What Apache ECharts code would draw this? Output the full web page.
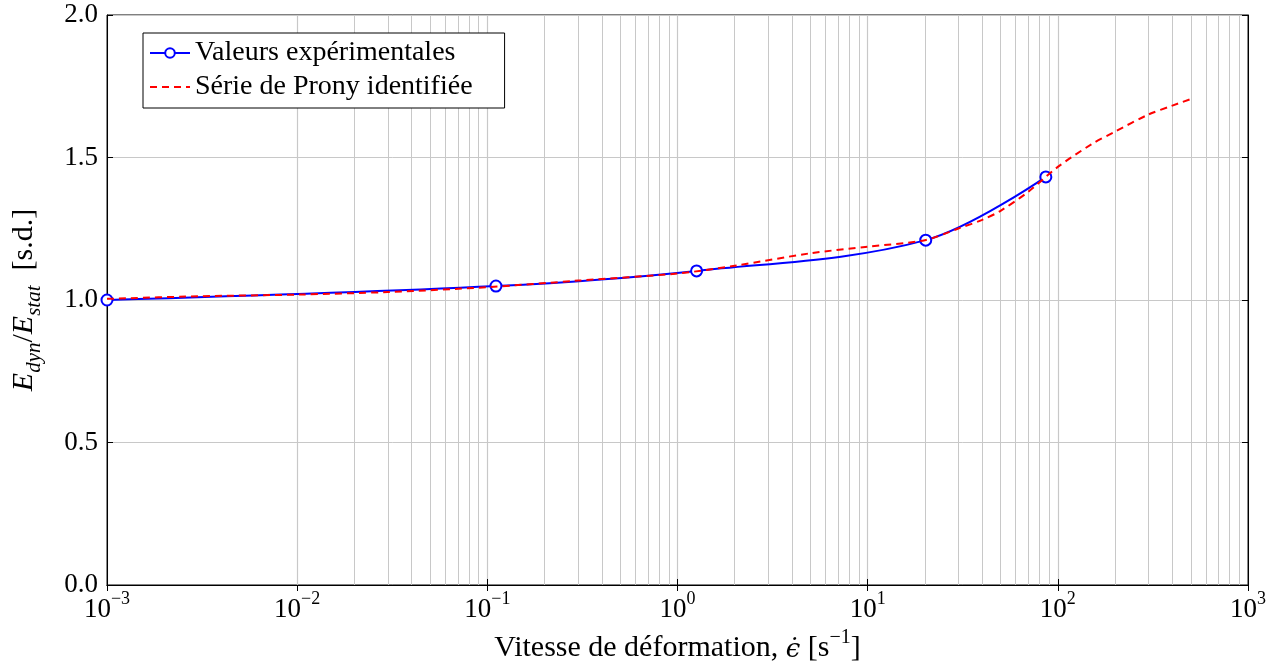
<!DOCTYPE html>
<html>
<head>
<meta charset="utf-8">
<script src="https://cdn.jsdelivr.net/npm/echarts@6/dist/echarts.min.js"></script>
<style>
  html, body { margin: 0; padding: 0; background: #fff; }
  #chart { width: 1281px; height: 666px; }
</style>
</head>
<body>
<div id="chart"></div>
<script>
// valeurs experimentales (vitesse de deformation, rapport E_dyn/E_stat)
var expRate  = [0.001, 0.111, 1.26, 20.2, 86.5];
var expRatio = [1.0, 1.049, 1.102, 1.21, 1.432];

// serie de Prony identifiee
var pronyRate  = [0.001, 0.003, 0.01, 0.03, 0.1, 0.3, 1, 2, 5, 10, 20, 30, 40, 50, 70, 100, 150, 200, 300, 400, 500];
var pronyRatio = [1.004, 1.013, 1.019, 1.028, 1.045, 1.068, 1.093, 1.12, 1.164, 1.187, 1.21, 1.251, 1.281, 1.313, 1.38, 1.467, 1.546, 1.591, 1.651, 1.682, 1.705];

// graduations
var xDecades = [-3, -2, -1, 0, 1, 2, 3];
var minorMult = [2, 3, 4, 5, 6, 7, 8, 9];

var font = 'Liberation Serif';
var fs = 27;
var gridColor = '#c8c8c8';

// grille secondaire (2..9 x 10^k)
var minorLines = [];
for (var d = 0; d < xDecades.length - 1; d++) {
  for (var m = 0; m < minorMult.length; m++) {
    minorLines.push({ xAxis: minorMult[m] * Math.pow(10, xDecades[d]) });
  }
}

function pts(xs, ys) {
  var res = [];
  for (var i = 0; i < xs.length; i++) res.push([xs[i], ys[i]]);
  return res;
}

function powLabel(v) {
  var e = Math.round(Math.log(v) / Math.LN10);
  var s = e < 0 ? '\u2212' + (-e) : String(e);
  return '{b|10}{sup|' + s + '}';
}

var supRich = {
  b: { fontFamily: font, fontSize: fs, color: '#000', lineHeight: 33, verticalAlign: 'bottom' },
  sup: { fontFamily: font, fontSize: 18, color: '#000', lineHeight: 18, verticalAlign: 'top' }
};

var myChart = echarts.init(document.getElementById('chart'));

var option = {
  backgroundColor: '#fff',
  animation: false,
  grid: {
    left: 107, right: 33, top: 15, bottom: 81,
    outerBoundsMode: 'none',
    show: true, borderColor: '#000', borderWidth: 1
  },
  legend: {
    left: 143, top: 33,
    orient: 'vertical',
    backgroundColor: '#fff',
    borderColor: '#000', borderWidth: 1,
    padding: [6, 32, 7, 6],
    itemGap: 6,
    itemWidth: 40, itemHeight: 12,
    textStyle: { fontFamily: font, fontSize: 28, color: '#000' },
    data: [
      { name: 'Valeurs expérimentales' },
      { name: 'Série de Prony identifiée', itemStyle: { opacity: 0 } }
    ]
  },
  xAxis: [{
    type: 'log', logBase: 10, min: 0.001, max: 1000, splitNumber: 6,
    position: 'bottom',
    name: '{n|Vitesse de déformation, }{i|\u03f5\u0307}{n| [s}{sup|\u22121}{n|]}',
    nameLocation: 'middle', nameGap: 39,
    nameTextStyle: {
      rich: {
        n: { fontFamily: font, fontSize: 30, color: '#000', lineHeight: 35, verticalAlign: 'bottom' },
        i: { fontFamily: 'DejaVu Serif', fontSize: 26, fontStyle: 'italic', color: '#000', lineHeight: 35, verticalAlign: 'bottom' },
        sup: { fontFamily: font, fontSize: 20, color: '#000', lineHeight: 20, verticalAlign: 'top' }
      }
    },
    axisLine: { show: true, lineStyle: { color: '#000', width: 1 } },
    axisTick: { show: true, inside: true, length: 6, lineStyle: { color: '#000' } },
    axisLabel: { margin: 5, formatter: powLabel, rich: supRich },
    splitLine: { show: true, lineStyle: { color: gridColor, width: 1.2 } }
  }, {
    type: 'log', logBase: 10, min: 0.001, max: 1000, splitNumber: 6,
    position: 'top',
    axisLine: { show: true, lineStyle: { color: '#000', width: 1 } },
    axisTick: { show: true, inside: true, length: 6, lineStyle: { color: '#000' } },
    axisLabel: { show: false },
    splitLine: { show: false }
  }],
  yAxis: [{
    type: 'value', min: 0, max: 2, interval: 0.5,
    name: '{i|E}{sub|dyn}{n|/}{i|E}{sub|stat}{n|  [s.d.]}',
    nameLocation: 'middle', nameGap: 62, nameRotate: 90,
    nameTextStyle: {
      rich: {
        n: { fontFamily: font, fontSize: 30, color: '#000', lineHeight: 36, verticalAlign: 'top' },
        i: { fontFamily: font, fontSize: 30, fontStyle: 'italic', color: '#000', lineHeight: 36, verticalAlign: 'top' },
        sub: { fontFamily: font, fontSize: 21, fontStyle: 'italic', color: '#000', lineHeight: 21, verticalAlign: 'bottom' }
      }
    },
    axisLine: { show: true, lineStyle: { color: '#000', width: 1 } },
    axisTick: { show: true, inside: true, length: 6, lineStyle: { color: '#000' } },
    axisLabel: {
      margin: 9, fontFamily: font, fontSize: fs, color: '#000',
      formatter: function (v) { return v.toFixed(1); }
    },
    splitLine: { show: true, lineStyle: { color: gridColor, width: 1 } }
  }, {
    type: 'value', min: 0, max: 2, interval: 0.5,
    position: 'right',
    axisLine: { show: true, lineStyle: { color: '#000', width: 1 } },
    axisTick: { show: true, inside: true, length: 6, lineStyle: { color: '#000' } },
    axisLabel: { show: false },
    splitLine: { show: false }
  }],
  series: [{
    name: 'Série de Prony identifiée',
    type: 'line',
    xAxisIndex: 0, yAxisIndex: 0,
    data: pts(pronyRate, pronyRatio),
    smooth: 0.3,
    symbol: 'none',
    z: 3,
    lineStyle: { color: '#ff0000', width: 2, type: [7, 5] },
    itemStyle: { color: '#ff0000' },
    markLine: {
      silent: true,
      symbol: ['none', 'none'],
      label: { show: false },
      animation: false,
      lineStyle: { color: gridColor, width: 1, type: 'solid' },
      data: minorLines,
      z: 1
    }
  }, {
    name: 'Valeurs expérimentales',
    type: 'line',
    xAxisIndex: 0, yAxisIndex: 0,
    data: pts(expRate, expRatio),
    smooth: 0.35,
    symbol: 'circle',
    symbolSize: 11,
    z: 2,
    lineStyle: { color: '#0000ff', width: 2 },
    itemStyle: { color: '#fff', borderColor: '#0000ff', borderWidth: 2 }
  }]
};

myChart.setOption(option);
</script>
</body>
</html>
